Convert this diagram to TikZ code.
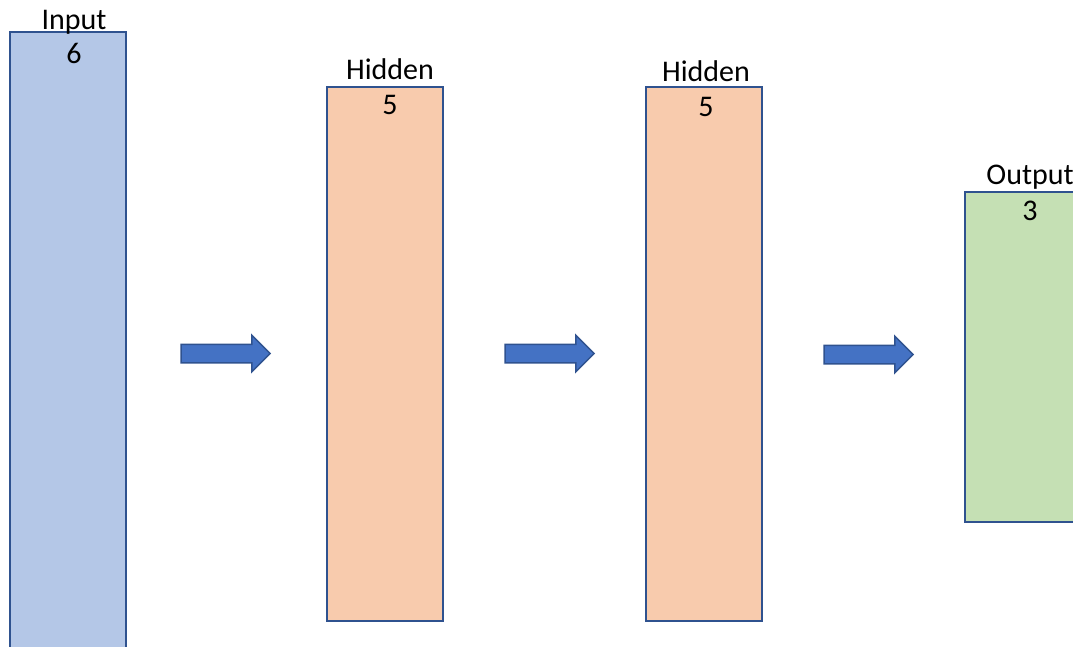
\documentclass[tikz,border=0pt]{standalone}
\usepackage{fontspec}
\setmainfont{Carlito}
\usetikzlibrary{shapes.arrows}

\definecolor{edgeblue}{HTML}{2F528F}
\definecolor{inputfill}{HTML}{B4C7E7}
\definecolor{hiddenfill}{HTML}{F8CBAD}
\definecolor{outputfill}{HTML}{C5E0B4}
\definecolor{arrowfill}{HTML}{4472C4}

\tikzset{
  layer/.style={draw=edgeblue,line width=2pt,minimum width=116pt,inner sep=0pt},
  lbl/.style={anchor=base,inner sep=0pt,font=\fontsize{30}{36}\selectfont},
  flow/.style={single arrow,draw=edgeblue,fill=arrowfill,line width=1.5pt,
    inner sep=8.5pt,single arrow head extend=9pt,minimum height=89pt}
}

\begin{document}
\begin{tikzpicture}[x=1pt,y=-1pt]
\useasboundingbox (0,0) rectangle (1073,647);
\clip (0,0) rectangle (1073,647);
% layers
\node[layer,fill=inputfill,minimum height=648pt] (in) at (68,356) {};
\node[layer,fill=hiddenfill,minimum height=534pt] (h1) at (385,354) {};
\node[layer,fill=hiddenfill,minimum height=534pt] (h2) at (704,354) {};
\node[layer,fill=outputfill,minimum height=330pt] (out) at (1023,357) {};
% names and sizes
\node[lbl] (inname) at (74,30) {Input};
\node[lbl] (insize) at (74,64) {6};
\node[lbl] (h1name) at (390,80) {Hidden};
\node[lbl] (h1size) at (390,115) {5};
\node[lbl] (h2name) at (706,82) {Hidden};
\node[lbl] (h2size) at (706,117) {5};
\node[lbl] (outname) at (1030,185) {Output};
\node[lbl] (outsize) at (1030,220) {3};
% arrows between layers
\node[flow] (a1) at (221,353.5) {};
\node[flow] (a2) at (545,353.5) {};
\node[flow] (a3) at (864,354.5) {};
\end{tikzpicture}
\end{document}
